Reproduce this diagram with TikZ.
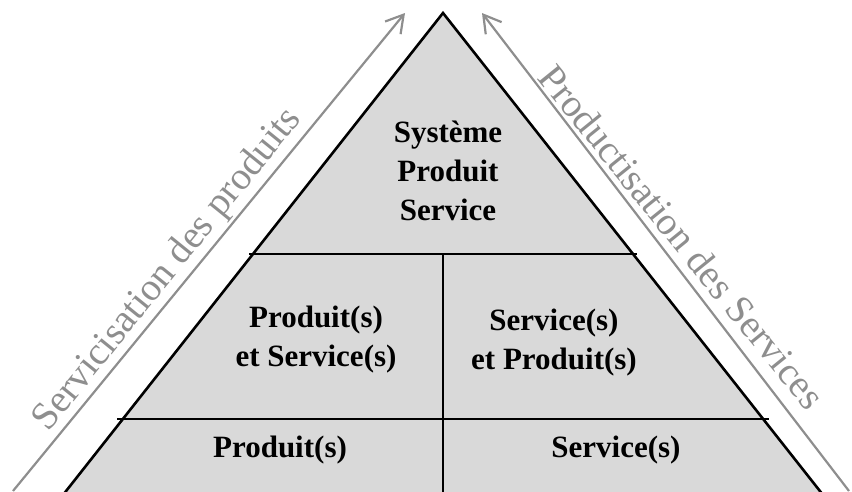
\documentclass[tikz,border=0pt]{standalone}
\usepackage{fontspec}
\setmainfont{Liberation Serif}
\usetikzlibrary{arrows.meta}
\definecolor{pfill}{HTML}{D9D9D9}
\definecolor{agray}{HTML}{8E8E8E}
\begin{document}
\begin{tikzpicture}[x=1pt,y=-1pt,
  edge/.style={line width=2.6pt, black},
  sideline/.style={line width=2.2pt, agray, -{Straight Barb[length=17pt,width=20pt,line width=2.2pt]}},
  celltext/.style={font=\fontsize{31}{39}\selectfont\bfseries, align=center, inner sep=0pt},
  sidetext/.style={font=\fontsize{39}{42}\selectfont, text=agray, inner sep=0pt}]
\useasboundingbox (0,0) rectangle (852,491);
\clip (0,0) rectangle (852,491);
% key points
\coordinate (A) at (443,13);
\coordinate (BL) at (59,500);
\coordinate (BR) at (827,500);
\coordinate (L1) at (249,254);
\coordinate (R1) at (637,254);
\coordinate (L2) at (117,419);
\coordinate (R2) at (769,419);
\coordinate (M1) at (443,254);
\coordinate (M2) at (443,500);
\fill[pfill] (A) -- (BL) -- (BR) -- cycle;
\draw[edge, line join=miter] (BL) -- (A) -- (BR);
\draw[edge] (L1) -- (R1);
\draw[edge] (L2) -- (R2);
\draw[edge] (M1) -- (M2);
% side arrows
\coordinate (SLs) at (13,491);
\coordinate (SLe) at (405,13);
\coordinate (SRs) at (849,491);
\coordinate (SRe) at (482,13);
\draw[sideline] (SLs) -- (SLe);
\draw[sideline] (SRs) -- (SRe);
% texts
\node[celltext] (sps) at (448,171) {Système\\Produit\\Service};
\node[celltext] (ps) at (316,340) {Produit(s)\\et Service(s)};
\node[celltext] (sp) at (554,343) {Service(s)\\et Produit(s)};
\node[celltext] (p) at (280,450) {Produit(s)};
\node[celltext] (s) at (616,450) {Service(s)};
\node[sidetext, rotate=51] (lt) at (168,270) {Servicisation des produits};
\node[sidetext, rotate=-51] (rt) at (682,237) {Productisation des Services};
\end{tikzpicture}
\end{document}
